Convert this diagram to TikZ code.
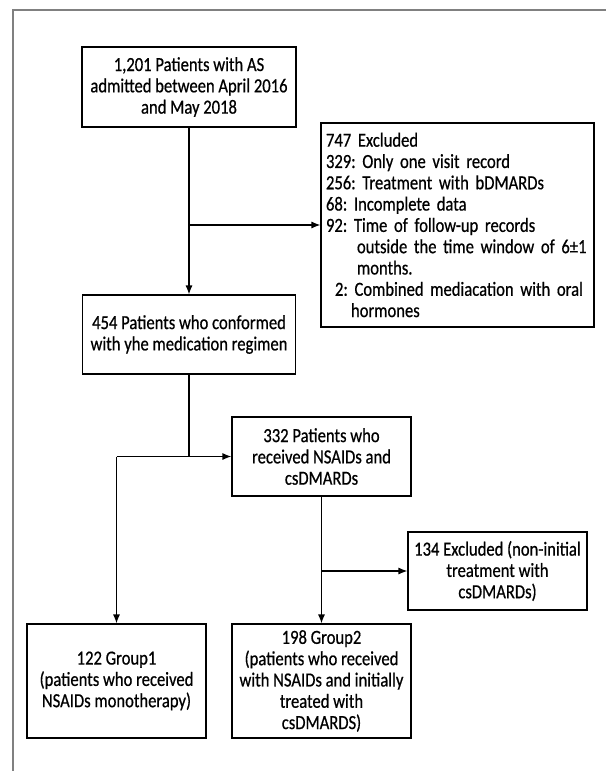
\documentclass[tikz,border=0pt]{standalone}
\usepackage{fontspec}
\setmainfont{Carlito}[FakeStretch=0.83,FakeBold=0.6]
\usetikzlibrary{arrows.meta,positioning}
\frenchspacing

\begin{document}
\begin{tikzpicture}[x=1pt,y=-1pt,
  box/.style={draw, line width=1.1pt, inner sep=0pt, align=center,
    font=\fontsize{20}{21.3}\selectfont\frenchspacing},
  arr/.style={line width=1.2pt, -{Latex[length=9pt,width=7pt]}},
  link/.style={line width=1.2pt}]
\useasboundingbox (0,0) rectangle (606,771);
% Frame
\draw[line width=1.2pt, gray] (13,771) -- (13,10) -- (606,10);

% Main column
\node[box, minimum width=214pt, minimum height=80pt] (a) at (189,87)
  {1,201 Patients with AS\\admitted between April 2016\\and May 2018};
\node[box, minimum width=213pt, minimum height=79pt] (p454) at (189,334.5)
  {454 Patients who conformed\\with yhe medication regimen};
\node[box, minimum width=273pt, minimum height=204pt, align=left,
      text width=263pt] (excl) at (457.5,225)
  {747 Excluded\\
   329: Only one visit record\\
   256: Treatment with bDMARDs\\
   68: Incomplete data\\
   92: Time of follow-up records\\
   \hspace*{31pt}outside the time window of 6±1\\
   \hspace*{31pt}months.\\
   \hspace*{9pt}2: Combined mediacation with oral\\
   \hspace*{25pt}hormones};

% Second level
\node[box, minimum width=179pt, minimum height=79pt] (c332) at (321.5,456.5)
  {332 Patients who\\received NSAIDs and\\csDMARDs};
\node[box, minimum width=179pt, minimum height=78pt] (e134) at (497.5,571)
  {134 Excluded (non-initial\\treatment with\\csDMARDs)};

% Groups
\node[box, minimum width=179pt, minimum height=114pt] (g1) at (116.5,681)
  {122 Group1\\(patients who received\\NSAIDs monotherapy)};
\node[box, minimum width=179pt, minimum height=114pt] (g2) at (321.5,681)
  {198 Group2\\(patients who received\\with NSAIDs and initially\\treated with\\csDMARDS)};

% Connectors
\coordinate (j1) at (a.south |- excl.west);
\coordinate (j2) at (g1.north |- c332.west);
\coordinate (j3) at (c332.south |- e134.west);
\draw[arr] (a.south) -- (p454.north);
\draw[arr] (j1) -- (excl.west);
\draw[link] (p454.south) -- (p454.south |- j2);
\draw[arr] (j2) -- (c332.west);
\draw[arr] (j2) -- (g1.north);
\draw[arr] (c332.south) -- (g2.north);
\draw[arr] (j3) -- (e134.west);
\end{tikzpicture}
\end{document}
